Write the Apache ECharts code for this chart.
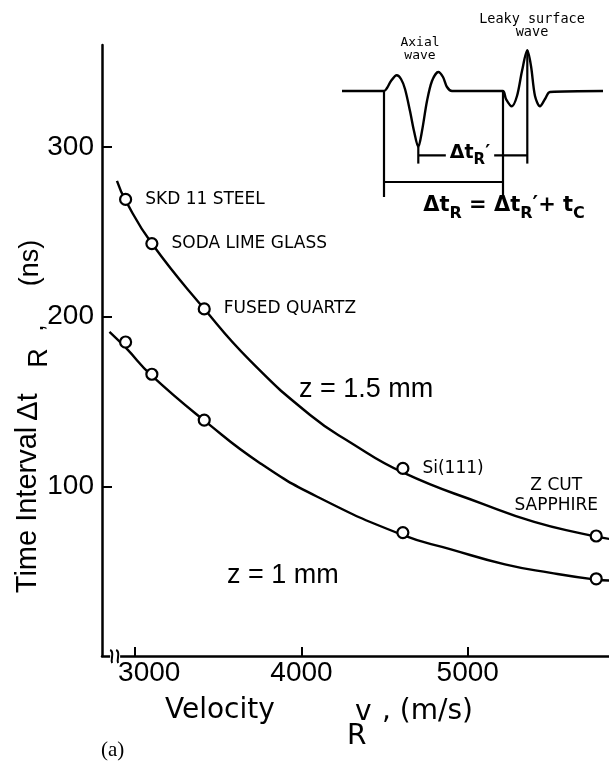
<!DOCTYPE html>
<html>
<head>
<meta charset="utf-8">
<script src="https://cdn.jsdelivr.net/npm/echarts@6/dist/echarts.min.js"></script>
<style>
html,body{margin:0;padding:0;background:#fff;}
#c{width:609px;height:764px;}
</style>
</head>
<body>
<div id="c"></div>
<script>
// ---- data ----
const xTicks = [3000, 4000, 5000];
const yTicks = [100, 200, 300];
const materials = ['SKD 11 STEEL', 'SODA LIME GLASS', 'FUSED QUARTZ', 'Si(111)', 'Z CUT\nSAPPHIRE'];
const velocity = [2942, 3100, 3415, 4610, 5773];
const dt15 = [269, 243, 204.5, 110.5, 70.7];
const dt10 = [185, 166, 139, 72.7, 45.5];
// fitted curves
const fit15V = [2890, 2944, 3100, 3411, 3691, 4052, 4292, 4613, 5094, 5400, 5695, 5851];
const fit15T = [280, 268, 243, 205, 174, 142, 126, 108, 89.5, 79, 72, 69];
const fit10V = [2845, 2944, 3096, 3431, 3751, 4092, 4603, 4894, 5224, 5500, 5771, 5851];
const fit10T = [191, 181.5, 165.5, 137.5, 113.6, 94, 71.5, 63, 54, 49, 45, 44.5];
// inset waveform (arbitrary time / amplitude units)
const waveT = [0, 42, 45, 49, 54.7, 59, 63, 68, 72, 76.3, 80, 85, 90, 96.3, 101, 105, 110, 160.7, 164, 169.7, 175, 180, 185.3, 189, 193, 198, 203, 208, 261];
const waveA = [0, 0, 3, 10, 15.7, 12, 2, -20, -40, -56, -40, -10, 10, 19, 14, 4, 0, 0, -8, -15.3, -5, 20, 40.7, 25, -5, -15.3, -8, -1, 0];
// inset marker lines: [t1, a1, t2, a2]
const insetSegs = [
  [42, 0, 42, -106],
  [161, 0, 161, -106],
  [42, -91, 161, -91],
  [76.3, -56, 76.3, -72.6],
  [76.3, -64.3, 185.3, -64.3],
  [185.3, 40.7, 185.3, -72.6]
];

const pair = (a, b) => a.map((v, i) => [v, b[i]]);

const chart = echarts.init(document.getElementById('c'), null, {renderer: 'canvas'});

const black = '#000';
const tickFont = 'Liberation Sans';

const upperPts = velocity.map((v, i) => {
  const item = {value: [v, dt15[i]], name: materials[i]};
  if (i === materials.length - 1) {
    item.label = {position: 'top', distance: 14, offset: [-40, 0], align: 'center', lineHeight: 20};
  }
  return item;
});

const segSeries = insetSegs.map(s => ({
  type: 'line', xAxisIndex: 1, yAxisIndex: 1, clip: false, silent: true,
  showSymbol: false, symbol: 'none',
  lineStyle: {color: black, width: 2.2},
  data: [[s[0], s[1]], [s[2], s[3]]]
}));

const option = {
  backgroundColor: '#fff',
  animation: false,
  grid: [
    {left: 102, right: 0, top: 45, bottom: 108},
    {left: 342, top: 16, width: 261, height: 205}
  ],
  xAxis: [
    {
      type: 'value', gridIndex: 0, min: 2800, max: 5850,
      axisLine: {show: true, lineStyle: {color: black, width: 2.5}},
      axisTick: {show: true, inside: true, length: 9, customValues: xTicks, lineStyle: {color: black, width: 2}},
      axisLabel: {
        customValues: xTicks, color: black, fontFamily: tickFont, fontSize: 28, margin: 3,
        formatter: v => v === 3000 ? '{s|3000}' : String(v),
        rich: {s: {fontFamily: tickFont, fontSize: 28, color: black, padding: [0, 0, 0, 28]}}
      },
      splitLine: {show: false}
    },
    {type: 'value', gridIndex: 1, min: 0, max: 261, show: false}
  ],
  yAxis: [
    {
      type: 'value', gridIndex: 0, min: 0, max: 360,
      axisLine: {show: true, lineStyle: {color: black, width: 2.5}},
      axisTick: {show: true, inside: true, length: 10, customValues: yTicks, lineStyle: {color: black, width: 2}},
      axisLabel: {customValues: yTicks, color: black, fontFamily: tickFont, fontSize: 28, margin: 8},
      splitLine: {show: false}
    },
    {type: 'value', gridIndex: 1, min: -130, max: 75, show: false}
  ],
  series: [
    {
      type: 'line', name: 'z=1.5 fit', data: pair(fit15V, fit15T), smooth: 0.5,
      showSymbol: false, symbol: 'none', lineStyle: {color: black, width: 2.4}, z: 2
    },
    {
      type: 'line', name: 'z=1 fit', data: pair(fit10V, fit10T), smooth: 0.5,
      showSymbol: false, symbol: 'none', lineStyle: {color: black, width: 2.4}, z: 2
    },
    {
      type: 'scatter', name: 'z=1.5 mm', data: upperPts, symbol: 'circle', symbolSize: 11, z: 5,
      itemStyle: {color: '#fff', borderColor: black, borderWidth: 2.2, opacity: 1},
      label: {
        show: true, position: 'right', distance: 13, color: black,
        fontFamily: 'DejaVu Sans', fontSize: 17,
        formatter: p => p.name
      }
    },
    {
      type: 'scatter', name: 'z=1 mm', data: pair(velocity, dt10), symbol: 'circle', symbolSize: 11, z: 5,
      itemStyle: {color: '#fff', borderColor: black, borderWidth: 2.2, opacity: 1}
    },
    {
      type: 'line', name: 'waveform', xAxisIndex: 1, yAxisIndex: 1, clip: false,
      data: pair(waveT, waveA), smooth: 0.3, showSymbol: false, symbol: 'none',
      lineStyle: {color: black, width: 2.4}
    }
  ].concat(segSeries)
};

chart.setOption(option);

const brk = chart.convertToPixel({gridIndex: 0}, [2885, 0]);
const bx = brk[0], by = brk[1];

const T = (text, x, y, font, size, extra) => Object.assign({
  type: 'text', x: x, y: y, z: 100,
  style: Object.assign({text: text, fill: black, font: size + 'px "' + font + '"', align: 'left', verticalAlign: 'middle'}, extra || {})
});

const subRich = (size, sub, drop) => ({
  m: {fontFamily: 'DejaVu Sans', fontWeight: 'bold', fontSize: size, lineHeight: size + 2, verticalAlign: 'top', color: black},
  s: {fontFamily: 'DejaVu Sans', fontWeight: 'bold', fontSize: sub, lineHeight: sub + 2, verticalAlign: 'top', padding: [drop, 0, 0, 0], color: black}
});

chart.setOption({
  graphic: [
    // axis break marks
    {type: 'rect', shape: {x: bx - 6, y: by - 2, width: 10, height: 4}, style: {fill: '#fff'}, z: 100},
    {type: 'bezierCurve', shape: {x1: bx - 6, y1: by - 6, cpx1: bx - 1, cpy1: by - 4, cpx2: bx - 6, cpy2: by + 3, x2: bx - 4, y2: by + 7}, style: {stroke: black, lineWidth: 2, fill: null}, z: 101},
    {type: 'bezierCurve', shape: {x1: bx, y1: by - 6, cpx1: bx + 5, cpy1: by - 4, cpx2: bx, cpy2: by + 3, x2: bx + 2, y2: by + 7}, style: {stroke: black, lineWidth: 2, fill: null}, z: 101},
    // x axis title
    T('Velocity', 165, 711, 'DejaVu Sans', 28),
    T('v', 355, 713, 'DejaVu Sans', 28),
    T('R', 347, 737, 'DejaVu Sans', 28),
    T(', (m/s)', 382, 712, 'DejaVu Sans', 28),
    // y axis title (rotated)
    Object.assign(T('Time Interval', 28, 510, 'Liberation Sans', 29, {align: 'center'}), {rotation: Math.PI / 2}),
    Object.assign(T('Δt', 29, 407, 'Liberation Sans', 29, {align: 'center'}), {rotation: Math.PI / 2}),
    Object.assign(T('R', 40, 358, 'Liberation Sans', 27, {align: 'center'}), {rotation: Math.PI / 2}),
    Object.assign(T(',', 36, 328, 'Liberation Sans', 27, {align: 'center'}), {rotation: Math.PI / 2}),
    Object.assign(T('(ns)', 31, 263, 'Liberation Sans', 27, {align: 'center'}), {rotation: Math.PI / 2}),
    // curve labels
    T('z = 1.5 mm', 299, 390, 'Liberation Sans', 27),
    T('z = 1 mm', 227, 576, 'Liberation Sans', 27),
    // panel label
    T('(a)', 101, 750, 'Liberation Serif', 21),
    // inset annotations
    T('Axial\nwave', 420, 49, 'DejaVu Sans Mono', 13, {align: 'center', lineHeight: 12.5}),
    T('Leaky surface\nwave', 532, 26, 'DejaVu Sans Mono', 13.5, {align: 'center', lineHeight: 13}),
    {
      type: 'text', x: 470, y: 154, z: 100,
      style: {
        text: '{m|Δt}{s|R}{m|′}', align: 'center', verticalAlign: 'middle',
        backgroundColor: '#fff', padding: [0, 4, 0, 4],
        rich: subRich(19, 15, 9)
      }
    },
    {
      type: 'text', x: 504, y: 207, z: 100,
      style: {
        text: '{m|Δt}{s|R}{m| = Δt}{s|R}{m|′+ t}{s|C}', align: 'center', verticalAlign: 'middle',
        rich: subRich(21, 16, 10)
      }
    }
  ]
});
</script>
</body>
</html>
